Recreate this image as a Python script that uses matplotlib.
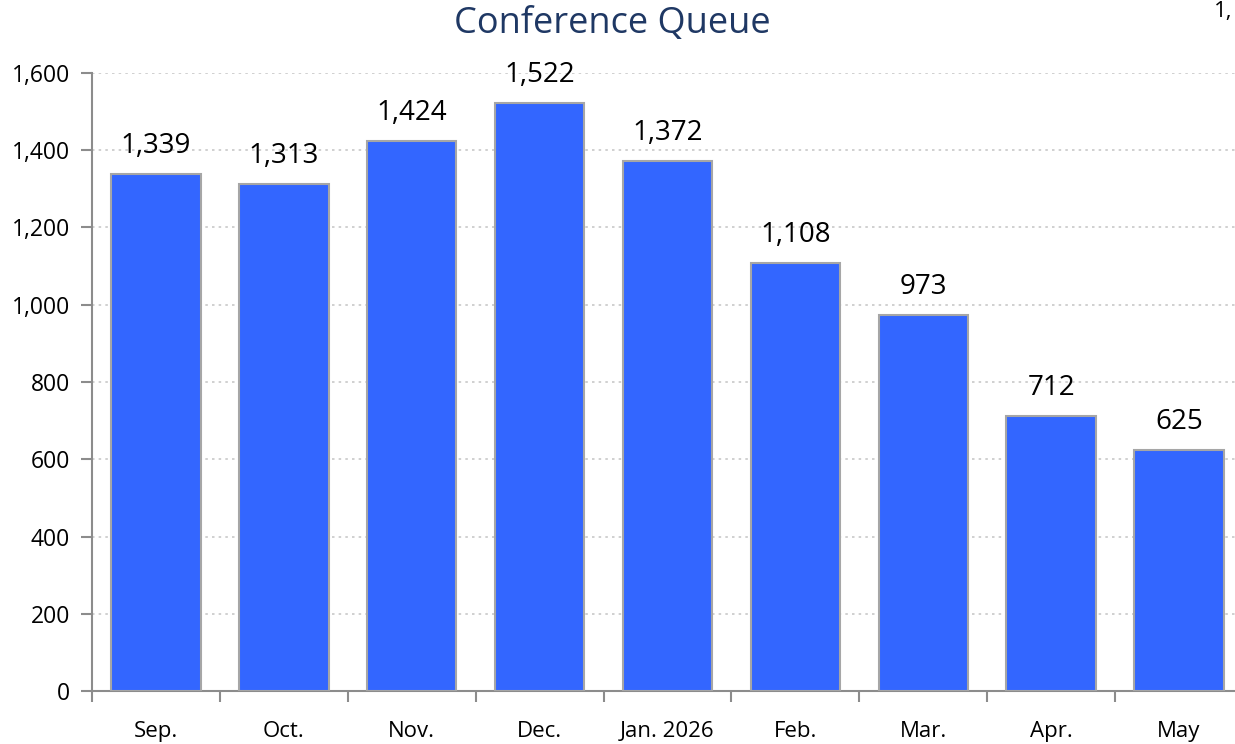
import matplotlib.pyplot as plt
from matplotlib.ticker import FuncFormatter, FixedLocator

plt.rcParams['font.family'] = ['Open Sans', 'DejaVu Sans']

months = ['Sep.', 'Oct.', 'Nov.', 'Dec.', 'Jan. 2026', 'Feb.', 'Mar.', 'Apr.', 'May']
queue = [1339, 1313, 1424, 1522, 1372, 1108, 973, 712, 625]
y_ticks = [0, 200, 400, 600, 800, 1000, 1200, 1400, 1600]

fig = plt.figure(figsize=(12.35, 7.44), dpi=100)
# axes runs off the right edge, as in the source image
ax = fig.add_axes([92 / 1235, 1 - 691 / 744, 1151 / 1235, (691 - 73) / 744])

x = list(range(len(months)))
bars = ax.bar(x, queue, width=0.70, color='#3366FF', edgecolor='#A6A6A6',
              linewidth=1.5, zorder=3)

for xi, v in zip(x, queue):
    ax.annotate('{:,}'.format(v), (xi, v), xytext=(0, 15),
                textcoords='offset points', ha='center', va='baseline',
                fontsize=20, color='black')

ax.set_xlim(-0.5, len(months) - 0.5)
ax.set_ylim(0, 1600)
ax.set_yticks(y_ticks)
ax.yaxis.set_major_formatter(FuncFormatter(lambda v, p: '{:,.0f}'.format(v)))
ax.grid(axis='y', color='#C8C8C8', linestyle=(0, (1.5, 2.5)), linewidth=1.2,
        zorder=0)

# category labels centred, tick marks between categories
ax.set_xticks(x)
ax.set_xticklabels(months, fontsize=16)
ax.tick_params(axis='x', length=0, pad=21.5)
ax.xaxis.set_minor_locator(FixedLocator([i - 0.5 for i in range(len(months) + 1)]))
ax.tick_params(axis='x', which='minor', length=8, width=1.5, color='#8C8C8C')
ax.tick_params(axis='y', length=8, width=1.5, color='#8C8C8C', labelsize=16.5,
               pad=8)

for side in ['top', 'right']:
    ax.spines[side].set_visible(False)
for side in ['left', 'bottom']:
    ax.spines[side].set_color('#8C8C8C')
    ax.spines[side].set_linewidth(1.5)

fig.text(612 / 1235, 1 - 24 / 744, 'Conference Queue', ha='center', va='center',
         fontsize=26, color='#1F3864')
fig.text(1214 / 1235, 1 - 12 / 744, '1,', ha='left', va='center',
         fontsize=16, color='black')

fig.savefig('out.png', dpi=100)
